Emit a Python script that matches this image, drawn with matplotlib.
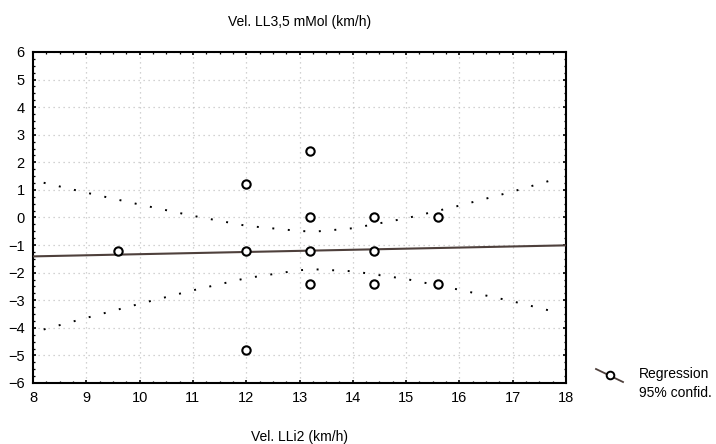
import matplotlib.pyplot as plt
from matplotlib.lines import Line2D
from matplotlib.ticker import MultipleLocator

plt.rcParams["font.family"] = ["Liberation Sans", "DejaVu Sans"]

# observed points
x_obs = [9.6, 12.0, 12.0, 12.0, 13.2, 13.2, 13.2, 13.2, 14.4, 14.4, 14.4, 15.6, 15.6]
y_obs = [-1.2, 1.2, -1.2, -4.8, 2.4, 0.0, -1.2, -2.4, 0.0, -1.2, -2.4, 0.0, -2.4]

# regression line
x_fit = [8.0, 18.0]
y_fit = [-1.41, -1.01]

# 95% confidence band
x_band = [8.2, 9.0, 10.0, 11.0, 12.0, 13.0, 13.3, 14.0, 15.0, 16.0, 17.0, 17.85]
y_upper = [1.26, 0.90, 0.47, 0.06, -0.30, -0.49, -0.51, -0.39, -0.03, 0.43, 0.94, 1.42]
y_lower = [-4.06, -3.64, -3.13, -2.64, -2.20, -1.91, -1.88, -1.95, -2.23, -2.62, -3.04, -3.45]

fig = plt.figure(figsize=(7.16, 4.44), dpi=100)
ax = fig.add_axes([0.0461, 0.1374, 0.7444, 0.7455])

ax.grid(True, which="major", color="#c4c4c4", linestyle=(0, (1, 3)), linewidth=0.9)
ax.plot(x_band, y_upper, color="black", linestyle=(0, (1, 7)), linewidth=1.4)
ax.plot(x_band, y_lower, color="black", linestyle=(0, (1, 7)), linewidth=1.4)
ax.plot(x_fit, y_fit, color="#4e403c", linewidth=1.5, zorder=3)
ax.plot(x_obs, y_obs, linestyle="none", marker="o", markersize=6,
        markerfacecolor="white", markeredgecolor="black", markeredgewidth=1.5, zorder=4)

ax.set_xlim(8, 18)
ax.set_ylim(-6, 6)
ax.xaxis.set_major_locator(MultipleLocator(1))
ax.yaxis.set_major_locator(MultipleLocator(1))
ax.xaxis.set_minor_locator(MultipleLocator(0.25))
ax.yaxis.set_minor_locator(MultipleLocator(0.25))
ax.tick_params(which="both", direction="in", top=True, right=True, labelsize=10.5, pad=6)
ax.tick_params(which="major", length=2.5, width=1.2)
ax.tick_params(which="minor", length=1.5, width=0.9)
for s in ax.spines.values():
    s.set_linewidth(1.5)

ax.set_title("Vel. LL3,5 mMol (km/h)", fontsize=10, pad=19)
ax.set_xlabel("Vel. LLi2 (km/h)", fontsize=10, labelpad=18)

# legend drawn outside on the right
fig.add_artist(Line2D([596 / 716, 623 / 716], [1 - 369 / 444, 1 - 382 / 444],
                      color="#4e403c", linewidth=1.3, transform=fig.transFigure))
fig.add_artist(Line2D([610 / 716], [1 - 375 / 444], marker="o", markersize=5.5,
                      markerfacecolor="white", markeredgecolor="black",
                      markeredgewidth=1.4, transform=fig.transFigure))
fig.text(639 / 716, 1 - 374 / 444, "Regression", fontsize=10, va="center")
fig.text(639 / 716, 1 - 393 / 444, "95% confid.", fontsize=10, va="center")

fig.savefig("out.png", dpi=100)
